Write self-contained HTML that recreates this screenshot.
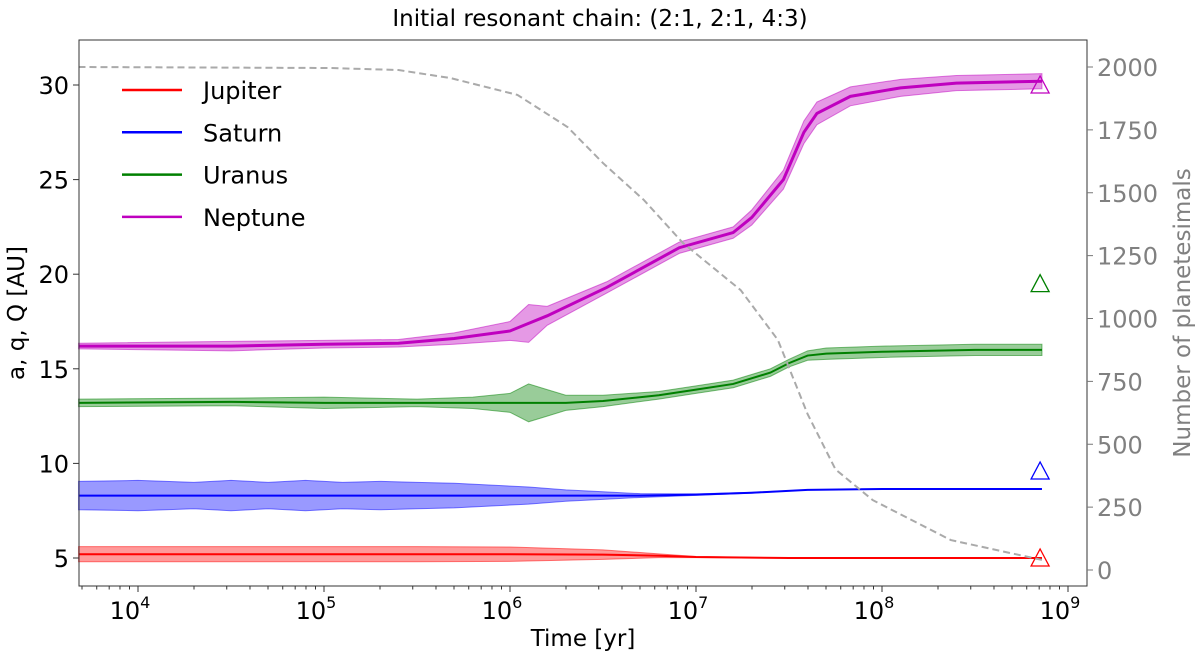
<!DOCTYPE html>
<html><head><meta charset="utf-8"><style>
body{margin:0;background:#fff}
svg text{font-family:"DejaVu Sans","Liberation Sans",sans-serif}
</style></head><body>
<svg id="c" width="1200" height="657" viewBox="0 0 1200 657" xmlns="http://www.w3.org/2000/svg">
<text x="600" y="26" font-size="23" text-anchor="middle">Initial resonant chain: (2:1, 2:1, 4:3)</text>
<g id="plot"></g>
</svg>
<script>
// log10(time) sample points
const tJ=[3.68,4.5,5,5.5,6,6.5,6.8,7,7.5,8,8.5,8.86];
const aJ=[5.2,5.2,5.2,5.2,5.2,5.18,5.12,5.05,5.0,5.0,5.0,5.0];
const wJ=[0.4,0.4,0.4,0.4,0.38,0.25,0.1,0.03,0,0,0,0];
const tS=[3.68,4,4.3,4.5,4.7,4.9,5.1,5.3,5.5,5.7,5.9,6.1,6.3,6.5,6.7,7,7.3,7.6,8,8.5,8.86];
const aS=[8.3,8.3,8.3,8.3,8.3,8.3,8.3,8.3,8.3,8.3,8.3,8.3,8.3,8.3,8.3,8.35,8.45,8.6,8.65,8.65,8.65];
const wS=[0.75,0.8,0.7,0.8,0.7,0.8,0.7,0.75,0.7,0.65,0.55,0.45,0.3,0.2,0.1,0.04,0.02,0,0,0,0];
const tU=[3.68,4.5,5,5.5,5.8,6,6.1,6.2,6.3,6.5,6.8,7,7.2,7.4,7.5,7.6,7.7,8,8.5,8.86];
const aU=[13.2,13.25,13.2,13.2,13.2,13.2,13.2,13.2,13.2,13.3,13.6,13.9,14.2,14.8,15.3,15.7,15.8,15.9,16.0,16.0];
const wU=[0.2,0.2,0.3,0.2,0.3,0.5,1.0,0.7,0.4,0.3,0.2,0.2,0.2,0.2,0.2,0.25,0.3,0.3,0.3,0.3];
const tN=[3.68,4.5,5,5.4,5.7,6,6.1,6.2,6.52,6.91,7.2,7.3,7.47,7.58,7.65,7.83,8.1,8.4,8.86];
const aN=[16.2,16.2,16.3,16.35,16.6,17.0,17.4,17.8,19.3,21.4,22.2,23.0,25.0,27.5,28.5,29.4,29.85,30.1,30.2];
const wN=[0.15,0.25,0.2,0.2,0.3,0.5,1.0,0.5,0.3,0.3,0.3,0.4,0.5,0.6,0.6,0.5,0.45,0.4,0.4];
const tP=[3.68,5.03,5.4,5.68,6.04,6.31,6.5,6.72,6.93,7.24,7.44,7.6,7.75,7.95,8.37,8.86];
const nP=[2000,1996,1988,1956,1889,1761,1618,1471,1300,1113,915,620,400,278,119,40];
const markT=8.85;
const markA=[5.0,9.6,19.5,30.0];
const names=["Jupiter","Saturn","Uranus","Neptune"];
const cols=["#ff0000","#0000ff","#008000","#bf00bf"];
const xTicks=[4,5,6,7,8,9];
const yTicks=[5,10,15,20,25,30];
const y2Ticks=[0,250,500,750,1000,1250,1500,1750,2000];

const L=79,R=1087,T=40,B=586;
const X=l=>138+(l-4)*186;
const Y=a=>558-(a-5)*18.92;
const Y2=n=>570-n*0.2515;
const NS="http://www.w3.org/2000/svg";
const g=document.getElementById('plot');
function mk(tag,at,parent){const e=document.createElementNS(NS,tag);for(const k in at)e.setAttribute(k,at[k]);(parent||g).appendChild(e);return e;}

const series=[[tJ,aJ,wJ],[tS,aS,wS],[tU,aU,wU],[tN,aN,wN]];
series.forEach((s,i)=>{
  const [t,a,w]=s;
  let up=t.map((v,j)=>X(v)+','+Y(a[j]+w[j]));
  let dn=t.map((v,j)=>X(v)+','+Y(a[j]-w[j])).reverse();
  const band=mk('polygon',{points:up.concat(dn).join(' '),fill:cols[i],'fill-opacity':0.4,stroke:cols[i],'stroke-opacity':0.5,'stroke-width':1});
  
  
  const ln=mk('polyline',{points:t.map((v,j)=>X(v)+','+Y(a[j])).join(' '),fill:'none',stroke:cols[i],'stroke-width':i==3?3:2});
  
  
  const mx=X(markT),my=Y(markA[i]);
  const tri=mk('polygon',{points:`${mx-9},${my+8} ${mx+9},${my+8} ${mx},${my-9}`,fill:'none',stroke:cols[i],'stroke-width':1.3});
  
  
});
const dash=mk('polyline',{points:tP.map((v,j)=>X(v)+','+Y2(nP[j])).join(' '),fill:'none',stroke:'#aaaaaa','stroke-width':2,'stroke-dasharray':'7,4'});



const fr=mk('rect',{x:L,y:T,width:R-L,height:B-T,fill:'none',stroke:'#333','stroke-width':1});


xTicks.forEach(d=>{
  const x=X(d);
  mk('line',{x1:x,x2:x,y1:B,y2:B+6,stroke:'#333'});
  const tx=mk('text',{x:x-8,y:B+33,'font-size':24,'text-anchor':'middle'});
  tx.textContent='10';
  const sp=mk('tspan',{dy:-11,'font-size':16},tx);sp.textContent=d;
  
  
  if(d<9)for(let m=2;m<10;m++){const xm=X(d+Math.log10(m));if(xm<R)mk('line',{x1:xm,x2:xm,y1:B,y2:B+3.5,stroke:'#333'});}
});
for(let m=5;m<10;m++){const xm=X(3+Math.log10(m));if(xm>L)mk('line',{x1:xm,x2:xm,y1:B,y2:B+3.5,stroke:'#333'});}
yTicks.forEach(v=>{
  const y=Y(v);
  mk('line',{x1:L-6,x2:L,y1:y,y2:y,stroke:'#333'});
  const tx=mk('text',{x:L-10,y:y+9,'font-size':24,'text-anchor':'end'});tx.textContent=v;
  
  
});
y2Ticks.forEach(v=>{
  const y=Y2(v);
  mk('line',{x1:R,x2:R+6,y1:y,y2:y,stroke:'#777'});
  const tx=mk('text',{x:R+10,y:y+9,'font-size':24,fill:'#808080'});tx.textContent=v;
  
  
});
const xl=mk('text',{x:583,y:646,'font-size':23,'text-anchor':'middle'});xl.textContent='Time [yr]';


const yl=mk('text',{x:0,y:0,'font-size':23,'text-anchor':'middle',transform:'translate(24,313) rotate(-90)'});yl.textContent='a, q, Q [AU]';


const y2l=mk('text',{x:0,y:0,'font-size':23,fill:'#808080','text-anchor':'middle',transform:'translate(1190,313) rotate(-90)'});y2l.textContent='Number of planetesimals';


names.forEach((n,i)=>{
  const y=90+i*42.3;
  const ll=mk('line',{x1:122,x2:182,y1:y,y2:y,stroke:cols[i],'stroke-width':2.5});
  
  
  const tx=mk('text',{x:203,y:y+9,'font-size':24});tx.textContent=n;
  
  
});
</script>
</body></html>
